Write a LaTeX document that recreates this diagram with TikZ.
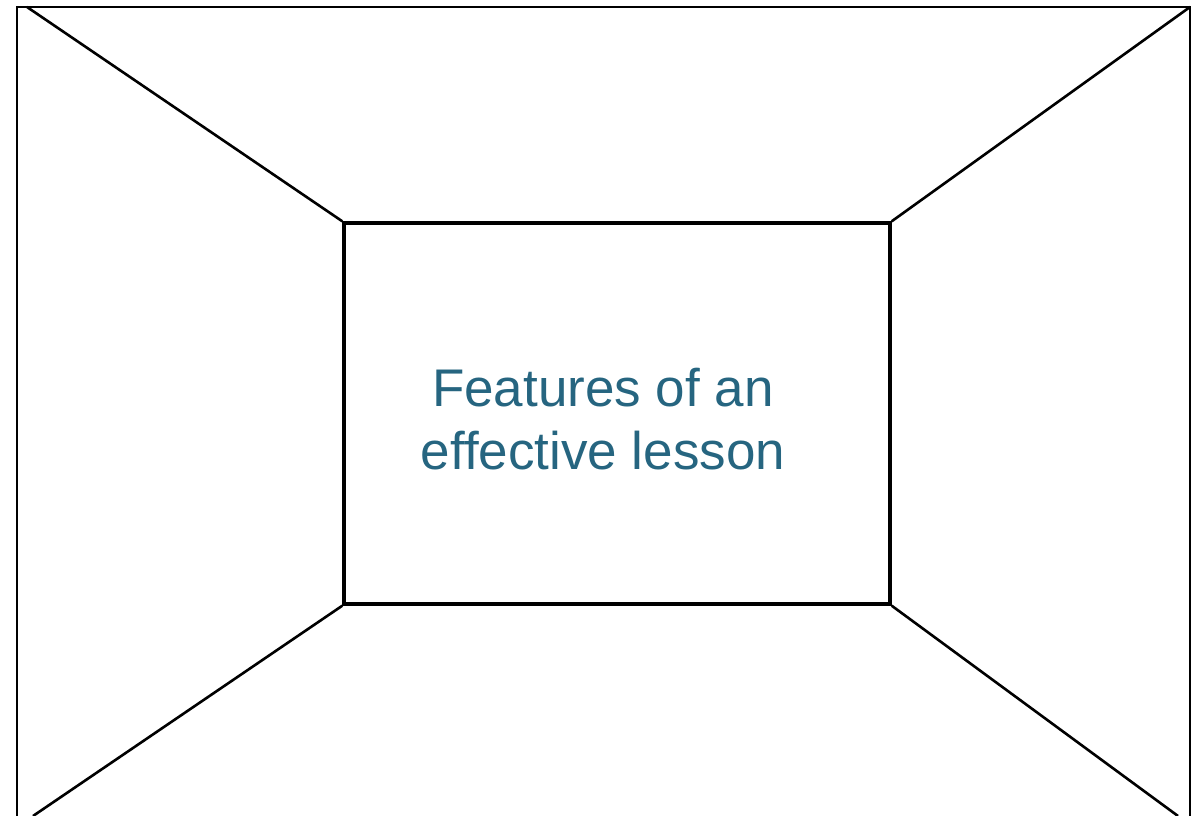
\documentclass[tikz,border=0pt]{standalone}
\usepackage{fontspec}
\setmainfont{Liberation Sans}
\definecolor{titleblue}{HTML}{266580}
\begin{document}
\begin{tikzpicture}[x=1pt,y=-1pt,
  frame/.style={line width=2.2pt},
  diag/.style={line width=2.6pt},
  centerbox/.style={draw,line width=3.4pt,minimum width=546pt,minimum height=381pt,inner sep=0pt},
  title/.style={text=titleblue,font=\fontsize{53}{63}\selectfont,align=center,inner sep=0pt}]
  \useasboundingbox (0,0) rectangle (1195,816);
  % outer frame (open at the bottom)
  \draw[frame] (17,820) -- (17,7) -- (1190,7) -- (1190,820);
  % central box and its caption
  \node[centerbox] (box) at (617,413.5) {};
  \node[title] (caption) at (603,419) {Features of an\\effective lesson};
  % far corners of the room
  \coordinate (tl) at (27,7);
  \coordinate (tr) at (1190,7);
  \coordinate (bl) at (33,816);
  \coordinate (br) at (1178,816);
  \draw[diag] (tl) -- (box.north west);
  \draw[diag] (tr) -- (box.north east);
  \draw[diag] (bl) -- (box.south west);
  \draw[diag] (br) -- (box.south east);
\end{tikzpicture}
\end{document}
